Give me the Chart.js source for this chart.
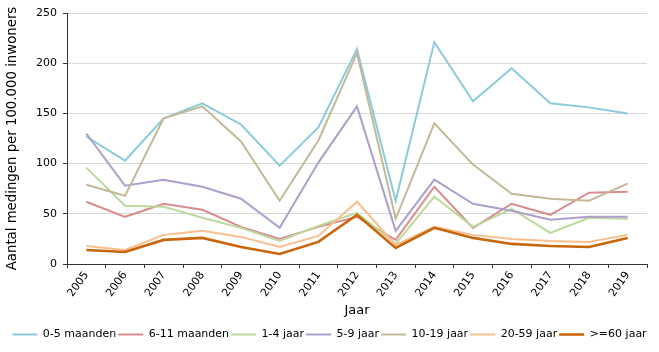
<!DOCTYPE html>
<html>
<head>
<meta charset="utf-8">
<script src="https://cdn.jsdelivr.net/npm/chart.js@4.4.0/dist/chart.umd.min.js"></script>
<style>
  body { margin: 0; background: #fff; }
</style>
</head>
<body>
<canvas id="chart" width="659" height="352"></canvas>
<script>
// years on the x axis
var years = ['2005','2006','2007','2008','2009','2010','2011','2012','2013','2014','2015','2016','2017','2018','2019'];

var m0_5   = [127, 103, 145, 160, 139, 98, 136, 214, 63, 221, 162, 195, 160, 156, 150];
var m6_11  = [62, 47, 60, 54, 37, 25, 37, 47, 24, 77, 36, 60, 49, 71, 72];
var j1_4   = [96, 58, 57, 46, 36, 23, 38, 51, 20, 67, 37, 55, 31, 46, 45];
var j5_9   = [130, 78, 84, 77, 65, 36, 101, 157, 33, 84, 60, 53, 44, 47, 47];
var j10_19 = [79, 68, 145, 157, 122, 63, 123, 210, 45, 140, 99, 70, 65, 63, 80];
var j20_59 = [18, 14, 29, 33, 27, 17, 28, 62, 19, 37, 29, 25, 23, 22, 29];
var j60    = [14, 12, 24, 26, 17, 10, 22, 49, 16, 36, 26, 20, 18, 17, 26];

var yTicks = [0, 50, 100, 150, 200, 250];

var font = 'DejaVu Sans';

function line(label, data, color, width, order) {
  return {
    label: label,
    data: data,
    borderColor: color,
    backgroundColor: color,
    borderWidth: width,
    pointRadius: 0,
    pointHoverRadius: 0,
    tension: 0,
    fill: false,
    order: order
  };
}

var ctx = document.getElementById('chart').getContext('2d');
var chart = new Chart(ctx, {
  type: 'line',
  data: {
    labels: years,
    datasets: [
      line('0-5 maanden', m0_5, '#8acbdb', 2, 7),
      line('6-11 maanden', m6_11, '#d98c8c', 2, 6),
      line('1-4 jaar', j1_4, '#bcd99c', 2, 5),
      line('5-9 jaar', j5_9, '#ae9fca', 2, 4),
      line('10-19 jaar', j10_19, '#c3b996', 2, 3),
      line('20-59 jaar', j20_59, '#f8bf8f', 2, 2),
      line('>=60 jaar', j60, '#c9650b', 2.6, 1)
    ]
  },
  options: {
    responsive: false,
    animation: false,
    layout: { padding: { top: 13, right: 0, bottom: 2, left: 0 } },
    plugins: {
      tooltip: { enabled: false },
      legend: {
        position: 'bottom',
        labels: {
          usePointStyle: true,
          pointStyle: 'line',
          pointStyleWidth: 25,
          boxHeight: 11,
          padding: 2,
          color: '#000',
          font: { family: font, size: 11 },
          sort: function (a, b) { return a.datasetIndex - b.datasetIndex; }
        }
      }
    },
    scales: {
      x: {
        offset: true,
        grid: { display: true, offset: true, drawOnChartArea: false, tickLength: 4, tickColor: '#333' },
        border: { color: '#333' },
        ticks: { color: '#000', font: { family: font, size: 11 }, minRotation: 55, maxRotation: 55, padding: 1 },
        title: { display: true, text: 'Jaar', color: '#000', font: { family: font, size: 13 }, padding: { top: 0, bottom: 9 } },
        afterFit: function (s) { s.height = 63; }
      },
      y: {
        min: 0,
        max: 250,
        afterBuildTicks: function (s) { s.ticks = yTicks.map(function (v) { return { value: v }; }); },
        grid: { color: '#d9d9d9', tickLength: 4, tickColor: '#333' },
        border: { color: '#333' },
        ticks: { color: '#000', font: { family: font, size: 11 }, padding: 6 },
        title: { display: true, text: 'Aantal medingen per 100.000 inwoners', color: '#000', font: { family: font, size: 13.3 }, padding: { top: 5, bottom: 0 } },
        afterFit: function (s) { s.width = 67; }
      },
      // empty strip on the right so the plot ends where the original does
      yr: {
        position: 'right',
        display: true,
        grid: { display: false },
        border: { display: false },
        ticks: { display: false },
        afterFit: function (s) { s.width = 12; }
      }
    }
  }
});
</script>
</body>
</html>
